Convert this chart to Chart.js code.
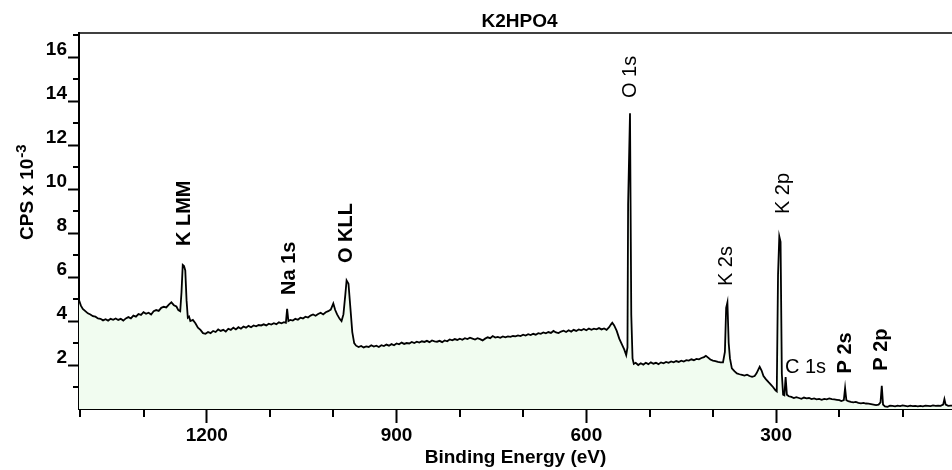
<!DOCTYPE html>
<html>
<head>
<meta charset="utf-8">
<title>K2HPO4</title>
<script src="https://cdn.jsdelivr.net/npm/chart.js@4.4.1/dist/chart.umd.min.js"></script>
<style>
    html, body { margin: 0; padding: 0; background: #fff; }
    .chart-box { position: relative; width: 952px; height: 470px; }
</style>
</head>
<body>
<div class="chart-box"><canvas id="xps-survey"></canvas></div>
<script>
// survey spectrum (binding energy in eV, counts in CPS x 10^-3)
const bindingEnergy = [
    1402, 1399, 1396, 1392, 1388, 1384, 1380, 1376, 1372, 1368, 1364, 1360, 1356, 1352, 1348, 1344,
    1340, 1336, 1332, 1328, 1324, 1320, 1316, 1312, 1308, 1304, 1300, 1296, 1292, 1288, 1284, 1280,
    1276, 1272, 1268, 1264, 1260, 1256, 1252, 1248, 1245, 1242, 1240, 1238, 1236, 1234, 1232, 1230,
    1228, 1226, 1222, 1218, 1214, 1210, 1206, 1202, 1198, 1194, 1190, 1186, 1182, 1178, 1174, 1170,
    1166, 1162, 1158, 1154, 1150, 1146, 1142, 1138, 1134, 1130, 1126, 1122, 1118, 1114, 1110, 1106,
    1102, 1098, 1094, 1090, 1086, 1082, 1078, 1075, 1073, 1071, 1068, 1064, 1060, 1056, 1052, 1048,
    1044, 1040, 1036, 1032, 1028, 1024, 1020, 1016, 1012, 1008, 1004, 1000, 997, 994, 990, 987,
    984, 981, 979, 976, 973, 970, 967, 964, 960, 956, 952, 948, 944, 940, 936, 932,
    928, 924, 920, 916, 912, 908, 904, 900, 896, 892, 888, 884, 880, 876, 872, 868,
    864, 860, 856, 852, 848, 844, 840, 836, 832, 828, 824, 820, 816, 812, 808, 804,
    800, 796, 792, 788, 784, 780, 776, 772, 768, 764, 760, 756, 752, 748, 744, 740,
    736, 732, 728, 724, 720, 716, 712, 708, 704, 700, 696, 692, 688, 684, 680, 676,
    672, 668, 664, 660, 656, 652, 648, 644, 640, 636, 632, 628, 624, 620, 616, 612,
    608, 604, 600, 596, 592, 588, 584, 580, 576, 572, 568, 564, 561, 559, 556, 552,
    548, 544, 540, 537, 535, 534, 531, 529, 527, 525, 522, 518, 514, 510, 506, 502,
    498, 494, 490, 486, 482, 478, 474, 470, 466, 462, 458, 454, 450, 446, 442, 438,
    434, 430, 426, 422, 418, 414, 411, 408, 404, 400, 396, 392, 388, 384, 381, 379,
    377, 375, 373, 370, 366, 362, 358, 354, 350, 346, 342, 338, 334, 331, 328, 326,
    323, 320, 316, 312, 308, 305, 301, 299, 297, 295, 293, 291, 289, 287, 285, 283,
    280, 276, 272, 268, 264, 260, 256, 252, 248, 244, 240, 236, 232, 228, 224, 220,
    216, 212, 208, 204, 200, 197, 193, 191, 189, 186, 182, 178, 174, 170, 166, 162,
    158, 154, 150, 146, 142, 138, 135, 133, 131, 128, 124, 120, 116, 112, 108, 104,
    100, 96, 92, 88, 84, 80, 76, 72, 68, 64, 60, 56, 52, 48, 44, 40,
    36, 34, 32, 28, 24, 22
];
const cps = [
    4.95, 4.70, 4.55, 4.45, 4.35, 4.30, 4.22, 4.20, 4.12, 4.10, 4.03, 4.08, 4.02, 4.10, 4.06, 4.12,
    4.05, 4.10, 4.02, 4.12, 4.18, 4.12, 4.25, 4.20, 4.32, 4.28, 4.40, 4.33, 4.38, 4.30, 4.45, 4.50,
    4.46, 4.60, 4.65, 4.62, 4.75, 4.85, 4.72, 4.66, 4.50, 4.45, 5.30, 6.55, 6.50, 6.30, 4.95, 4.15,
    4.20, 4.00, 4.05, 3.90, 3.70, 3.60, 3.45, 3.42, 3.50, 3.45, 3.55, 3.50, 3.62, 3.55, 3.60, 3.52,
    3.65, 3.60, 3.70, 3.62, 3.72, 3.65, 3.75, 3.70, 3.78, 3.72, 3.80, 3.76, 3.82, 3.80, 3.85, 3.80,
    3.88, 3.84, 3.90, 3.86, 3.94, 3.90, 3.95, 3.92, 4.55, 4.00, 4.05, 4.02, 4.10, 4.06, 4.15, 4.12,
    4.20, 4.16, 4.25, 4.30, 4.24, 4.32, 4.38, 4.30, 4.40, 4.45, 4.52, 4.80, 4.50, 4.30, 4.10, 4.00,
    4.30, 5.20, 5.85, 5.70, 4.60, 3.50, 3.00, 2.88, 2.82, 2.87, 2.80, 2.85, 2.82, 2.90, 2.84, 2.88,
    2.82, 2.90, 2.86, 2.93, 2.88, 2.95, 2.90, 2.98, 2.94, 3.02, 2.96, 3.00, 2.98, 3.05, 3.00, 3.06,
    3.02, 3.08, 3.05, 3.10, 3.04, 3.12, 3.08, 3.06, 3.10, 3.04, 3.12, 3.08, 3.16, 3.12, 3.18, 3.14,
    3.20, 3.15, 3.22, 3.18, 3.24, 3.20, 3.16, 3.22, 3.18, 3.12, 3.20, 3.26, 3.22, 3.32, 3.25, 3.28,
    3.24, 3.30, 3.26, 3.30, 3.28, 3.32, 3.30, 3.35, 3.32, 3.38, 3.34, 3.40, 3.36, 3.42, 3.38, 3.45,
    3.42, 3.48, 3.44, 3.50, 3.46, 3.55, 3.48, 3.45, 3.52, 3.56, 3.50, 3.58, 3.52, 3.60, 3.55, 3.62,
    3.58, 3.64, 3.58, 3.66, 3.60, 3.65, 3.62, 3.68, 3.62, 3.66, 3.60, 3.72, 3.85, 3.92, 3.80, 3.55,
    3.20, 2.95, 2.70, 2.45, 2.80, 9.30, 13.45, 4.30, 2.30, 2.05, 2.10, 2.00, 2.08, 2.02, 2.10, 2.04,
    2.12, 2.06, 2.10, 2.04, 2.12, 2.08, 2.14, 2.10, 2.16, 2.12, 2.18, 2.14, 2.20, 2.16, 2.22, 2.20,
    2.26, 2.22, 2.28, 2.26, 2.32, 2.36, 2.42, 2.35, 2.25, 2.20, 2.18, 2.14, 2.12, 2.12, 2.60, 4.60,
    4.85, 3.00, 2.30, 1.85, 1.72, 1.62, 1.58, 1.55, 1.52, 1.56, 1.50, 1.46, 1.50, 1.62, 1.80, 1.92,
    1.75, 1.50, 1.35, 1.22, 1.10, 1.00, 0.85, 0.80, 6.10, 7.85, 7.60, 1.60, 0.65, 0.62, 1.45, 0.65,
    0.58, 0.55, 0.50, 0.54, 0.50, 0.46, 0.52, 0.48, 0.50, 0.45, 0.48, 0.44, 0.46, 0.42, 0.46, 0.44,
    0.48, 0.45, 0.44, 0.42, 0.40, 0.36, 0.40, 0.95, 0.40, 0.36, 0.32, 0.30, 0.32, 0.28, 0.26, 0.28,
    0.25, 0.24, 0.22, 0.20, 0.18, 0.20, 0.30, 1.05, 0.20, 0.12, 0.10, 0.15, 0.14, 0.12, 0.15, 0.13,
    0.16, 0.14, 0.12, 0.15, 0.13, 0.14, 0.12, 0.14, 0.12, 0.15, 0.14, 0.13, 0.16, 0.14, 0.15, 0.14,
    0.20, 0.45, 0.20, 0.14, 0.15, 0.15
];

// peak annotations: name, energy, height of the label centre, vertical or not, bold or not
const peakNames = ['K LMM', 'Na 1s', 'O KLL', 'O 1s', 'K 2s', 'K 2p', 'C 1s', 'P 2s', 'P 2p'];
const peakEnergy = [1235, 1070, 979, 531, 378, 289, 286, 191, 133];
const peakLabelY = [8.9, 6.4, 8.0, 15.1, 6.5, 9.8, 1.9, 2.55, 2.7];
const peakVertical = [true, true, true, true, true, true, false, true, true];
const peakBold = [true, true, true, false, false, false, false, true, true];

const xLabelEvery = 300;   // labelled ticks 1200, 900, 600, 300
const yLabelEvery = 2;     // labelled ticks 2 .. 16
const energyMin = 22, energyMax = 1402;
const cpsMin = 0, cpsMax = 17.1;

const FONT = '"Liberation Sans", Arial, sans-serif';

let Survey = {

    setup: function () {
        this.drawChart();
    },

    isMajorX: function (v) {
        return v % xLabelEvery === 0;
    },

    isMajorY: function (v) {
        return v !== 0 && v % yLabelEvery === 0;
    },

    // title, frame top, minor ticks, y title and the peak names
    decorations: {
        id: 'decorations',
        afterDraw: function (chart) {
            const ctx = chart.ctx,
                area = chart.chartArea,
                xs = chart.scales.x,
                ys = chart.scales.y;

            ctx.save();
            ctx.strokeStyle = '#000';
            ctx.fillStyle = '#000';

            // top frame line
            ctx.lineWidth = 1.5;
            ctx.beginPath();
            ctx.moveTo(area.left, area.top);
            ctx.lineTo(area.right, area.top);
            ctx.stroke();

            // minor ticks
            ctx.lineWidth = 2;
            ctx.beginPath();
            xs.ticks.forEach(function (t) {
                if (!Survey.isMajorX(t.value)) {
                    const px = Math.round(xs.getPixelForValue(t.value));
                    ctx.moveTo(px, area.bottom);
                    ctx.lineTo(px, area.bottom + 8);
                }
            });
            ys.ticks.forEach(function (t) {
                if (t.value !== 0 && !Survey.isMajorY(t.value)) {
                    const py = Math.round(ys.getPixelForValue(t.value));
                    ctx.moveTo(area.left - 6, py);
                    ctx.lineTo(area.left, py);
                }
            });
            ctx.stroke();

            // title
            ctx.font = 'bold 19px ' + FONT;
            ctx.textAlign = 'center';
            ctx.textBaseline = 'middle';
            ctx.fillText('K2HPO4', (area.left + area.right) / 2 + 4, area.top - 11);

            // y axis title with superscript
            ctx.save();
            ctx.translate(area.left - 51, area.top + 207);
            ctx.rotate(-Math.PI / 2);
            ctx.textAlign = 'left';
            ctx.font = 'bold 19px ' + FONT;
            ctx.fillText('CPS x 10', 0, 0);
            const w = ctx.measureText('CPS x 10').width;
            ctx.font = 'bold 15px ' + FONT;
            ctx.fillText('-3', w + 1, -6);
            ctx.restore();

            // peak names
            peakNames.forEach(function (name, i) {
                const px = xs.getPixelForValue(peakEnergy[i]),
                    py = ys.getPixelForValue(peakLabelY[i]);
                ctx.save();
                ctx.font = (peakBold[i] ? 'bold ' : '') + '20px ' + FONT;
                ctx.textBaseline = 'middle';
                ctx.translate(px, py);
                if (peakVertical[i]) {
                    ctx.rotate(-Math.PI / 2);
                    ctx.textAlign = 'center';
                } else {
                    ctx.textAlign = 'left';
                }
                ctx.fillText(name, 0, 0);
                ctx.restore();
            });

            ctx.restore();
        }
    },

    drawChart: function () {
        const points = bindingEnergy.map(function (e, i) {
            return {x: e, y: cps[i]};
        });

        new Chart(document.getElementById('xps-survey'), {
            type: 'line',
            data: {
                datasets: [{
                    data: points,
                    borderColor: '#000',
                    borderWidth: 1.8,
                    backgroundColor: '#f1fcf0',
                    fill: 'origin',
                    pointRadius: 0,
                    tension: 0,
                }]
            },
            plugins: [this.decorations],
            options: {
                responsive: true,
                maintainAspectRatio: false,
                animation: false,
                layout: {
                    padding: {top: 33, right: 0, bottom: 0, left: 0}
                },
                plugins: {
                    legend: {display: false},
                    tooltip: {enabled: false},
                    title: {display: false}
                },
                scales: {
                    x: {
                        type: 'linear',
                        reverse: true,
                        min: energyMin,
                        max: energyMax,
                        afterFit: function (scale) {
                            scale.height = 61;
                        },
                        border: {display: true, color: '#000', width: 2},
                        grid: {
                            drawOnChartArea: false,
                            tickLength: 14,
                            tickWidth: 2,
                            tickColor: function (c) {
                                return c.tick && Survey.isMajorX(c.tick.value) ? '#000' : 'rgba(0,0,0,0)';
                            }
                        },
                        ticks: {
                            stepSize: 100,
                            autoSkip: false,
                            includeBounds: false,
                            maxRotation: 0,
                            padding: 1,
                            color: '#000',
                            font: {family: FONT, size: 19, weight: 'bold'},
                            callback: function (v) {
                                return Survey.isMajorX(v) ? String(v) : '';
                            }
                        },
                        title: {
                            display: true,
                            text: 'Binding Energy (eV)',
                            color: '#000',
                            font: {family: FONT, size: 19, weight: 'bold'},
                            padding: {top: 0, bottom: 1}
                        }
                    },
                    y: {
                        type: 'linear',
                        min: cpsMin,
                        max: cpsMax,
                        afterFit: function (scale) {
                            scale.width = 79;
                        },
                        border: {display: true, color: '#000', width: 2},
                        grid: {
                            drawOnChartArea: false,
                            tickLength: 11,
                            tickWidth: 2,
                            tickColor: function (c) {
                                return c.tick && Survey.isMajorY(c.tick.value) ? '#000' : 'rgba(0,0,0,0)';
                            }
                        },
                        ticks: {
                            stepSize: 1,
                            autoSkip: false,
                            includeBounds: false,
                            padding: 1,
                            labelOffset: -7,
                            color: '#000',
                            font: {family: FONT, size: 19, weight: 'bold'},
                            callback: function (v) {
                                return Survey.isMajorY(v) ? String(v) : '';
                            }
                        }
                    }
                }
            }
        });
    }
};

Survey.setup();
</script>
</body>
</html>
